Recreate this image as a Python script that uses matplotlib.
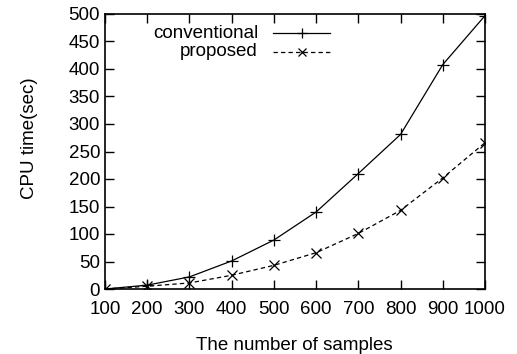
import matplotlib
matplotlib.use("Agg")
import matplotlib.pyplot as plt
from matplotlib.lines import Line2D

plt.rcParams['font.family'] = ['Liberation Sans', 'DejaVu Sans']

samples = [100, 200, 300, 400, 500, 600, 700, 800, 900, 1000]
conventional = [0, 7, 22, 51, 89, 140, 210, 281, 408, 497]
proposed = [0, 5, 11, 25, 43, 66, 101, 143, 202, 266]
x_ticks = [100, 200, 300, 400, 500, 600, 700, 800, 900, 1000]
y_ticks = [0, 50, 100, 150, 200, 250, 300, 350, 400, 450, 500]

W, H = 517, 354
FS = 13.5
fig = plt.figure(figsize=(W/100, H/100), dpi=100)
ax = fig.add_axes([105/W, 1-289/H, 380/W, 275/H])

dash = (0, (3.5, 2.5))
ax.plot(samples, conventional, color='black', linestyle='-', linewidth=0.9,
        marker='+', markersize=8, markeredgewidth=0.9)
ax.plot(samples, proposed, color='black', linestyle=dash, linewidth=0.9,
        marker='x', markersize=7, markeredgewidth=0.9)

ax.set_xlim(100, 1000)
ax.set_ylim(0, 500)
ax.set_xticks(x_ticks)
ax.set_yticks(y_ticks)
ax.tick_params(direction='in', length=6.5, width=1, top=True, right=True,
               labelsize=FS)
ax.tick_params(axis='x', pad=8.5)
ax.tick_params(axis='y', pad=3.5)
for s in ax.spines.values():
    s.set_linewidth(1.2)

fig.text(294/W, 1-346/H, 'The number of samples', fontsize=FS,
         ha='center', va='center')
fig.text(29/W, 1-138/H, 'CPU time(sec)', fontsize=FS, rotation=90,
         ha='center', va='center')

# legend (manual, gnuplot style: text right-aligned, sample to the right)
entries = [('conventional', '-', '+', 7, 33), ('proposed', dash, 'x', 5.5, 52)]
for label, ls, mk, ms, yp in entries:
    fig.text(258/W, 1-yp/H, label, fontsize=FS, ha='right', va='center')
    fig.add_artist(Line2D([273/W, 330/W], [1-yp/H, 1-yp/H], transform=fig.transFigure,
                          color='black', linestyle=ls, linewidth=0.9))
    fig.add_artist(Line2D([302/W], [1-yp/H], transform=fig.transFigure,
                          color='black', linestyle='none', marker=mk,
                          markersize=ms, markeredgewidth=0.9))

fig.savefig('out.png', dpi=100)
